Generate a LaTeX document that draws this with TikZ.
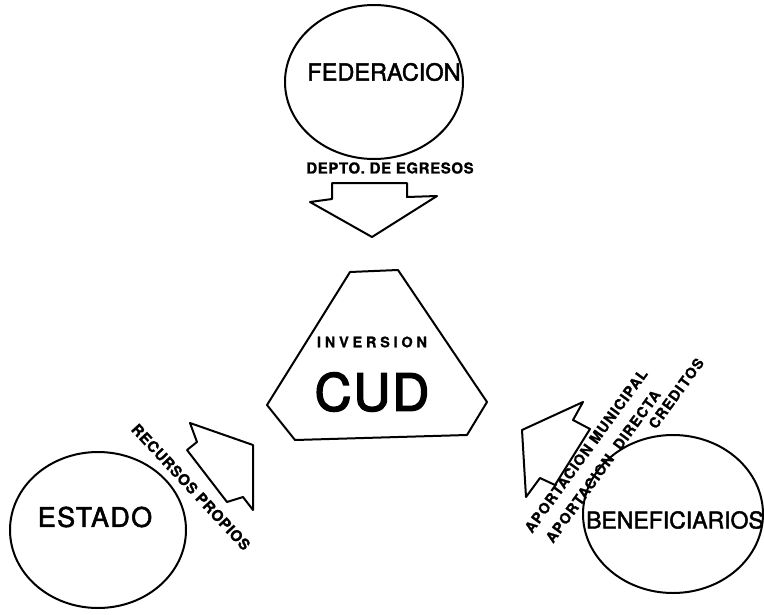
\documentclass[tikz,border=0pt]{standalone}
\usepackage{fontspec}
\setmainfont{TeX Gyre Heros}
\newfontfamily\boldls[LetterSpace=4,FakeBold=1]{TeX Gyre Heros Bold}
\newfontfamily\boldrs[LetterSpace=7,FakeBold=1]{TeX Gyre Heros Bold}
\newfontfamily\boldwide[LetterSpace=26,FakeBold=1]{TeX Gyre Heros Bold}
\newfontfamily\medls[LetterSpace=5,FakeBold=2]{TeX Gyre Heros}
\newfontfamily\med[FakeBold=2]{TeX Gyre Heros}
\newfontfamily\cudfont[LetterSpace=4,FakeBold=3]{TeX Gyre Heros}
\begin{document}
\begin{tikzpicture}[x=1pt,y=-1pt,
  outl/.style={draw=black,line width=2pt,line join=round},
  ell/.style={outl},
  lbl/.style={inner sep=0pt,text=black},
  rlbl/.style={lbl,rotate=54,anchor=base west}]
\useasboundingbox (0,0) rectangle (764,614);
% ellipses
\draw[ell] (374,82) ellipse [x radius=89, y radius=77];
\draw[ell] (98,530) ellipse [x radius=88, y radius=78];
\draw[ell] (673,514) ellipse [x radius=90, y radius=79];
\node[lbl] (fed) at (384,72) {\med\fontsize{23.5}{24}\selectfont FEDERACION};
\node[lbl] (est) at (95,517) {\medls\fontsize{27}{27}\selectfont ESTADO};
\node[lbl] (ben) at (675,520) {\med\fontsize{23}{24}\selectfont BENEFICIARIOS};
% CUD
\draw[outl] (350,272) -- (398,270) -- (487,402) -- (467,435) -- (295,440) -- (267,405) -- cycle;
\node[lbl] (inv) at (372,342) {\boldwide\fontsize{14.5}{14}\selectfont INVERSION};
\node[lbl] (cud) at (372,392) {\cudfont\fontsize{51}{51}\selectfont CUD};
% down arrow
\draw[outl] (332,183) -- (407,183) -- (407,197) -- (437,196) -- (372,237) -- (310,202) -- (332,199) -- cycle;
\node[lbl] (dep) at (390,168) {\boldls\fontsize{15}{15}\selectfont DEPTO. DE EGRESOS};
% left arrow
\draw[outl] (190,423) -- (253,445) -- (253,510) -- (243,497) -- (227,502) -- (187,450) -- (197,442) -- cycle;
\node[lbl,rotate=-47] (rec) at (191,487) {\boldls\fontsize{15}{15}\selectfont RECURSOS PROPIOS};
% right arrow
\draw[outl] (583,402) -- (573,420) -- (590,429) -- (555,485) -- (540,478) -- (526,497) -- (522,430) -- cycle;
\node[rlbl] (ap1) at (532,534) {\boldrs\fontsize{14.5}{14}\selectfont APORTACION MUNICIPAL};
\node[rlbl] (ap2) at (553,544) {\boldrs\fontsize{14.5}{14}\selectfont APORTACION\hspace{5pt} DIRECTA};
\node[rlbl] (cre) at (656,430) {\boldrs\fontsize{14.5}{14}\selectfont CREDI\hspace{2pt}TOS};
\end{tikzpicture}
\end{document}
